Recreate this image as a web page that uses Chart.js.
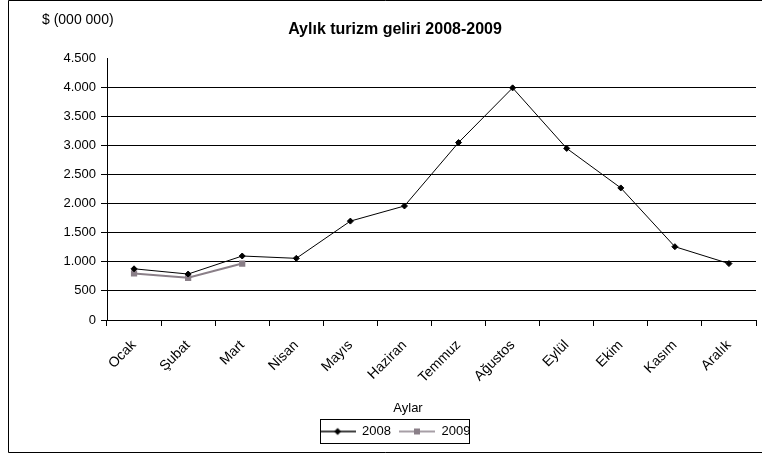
<!DOCTYPE html>
<html>
<head>
<meta charset="utf-8">
<script src="https://cdn.jsdelivr.net/npm/chart.js@4.4.0/dist/chart.umd.min.js"></script>
<style>
  html, body { margin: 0; padding: 0; background: #fff; }
  #wrap { width: 762px; height: 454px; position: relative; }
</style>
</head>
<body>
<div id="wrap"><canvas id="tourismChart"></canvas></div>
<script>
const months = ['Ocak', 'Şubat', 'Mart', 'Nisan', 'Mayıs', 'Haziran', 'Temmuz', 'Ağustos', 'Eylül', 'Ekim', 'Kasım', 'Aralık'];
const income2008 = [880, 790, 1100, 1060, 1700, 1960, 3050, 3990, 2950, 2270, 1260, 970];
const income2009 = [800, 725, 970, null, null, null, null, null, null, null, null, null];
const yTicks = [0, 500, 1000, 1500, 2000, 2500, 3000, 3500, 4000, 4500];

const fontFamily = '"Liberation Sans", Arial, sans-serif';

// little legend glyph: line with marker in the middle
function legendGlyph(color, style) {
  const c = document.createElement('canvas');
  c.width = 36; c.height = 10;
  const g = c.getContext('2d');
  g.strokeStyle = color; g.lineWidth = 1.5;
  g.beginPath(); g.moveTo(0, 5); g.lineTo(36, 5); g.stroke();
  g.fillStyle = color;
  if (style === 'diamond') {
    g.beginPath(); g.moveTo(18, 1.5); g.lineTo(21.5, 5); g.lineTo(18, 8.5); g.lineTo(14.5, 5); g.closePath(); g.fill();
  } else {
    g.fillRect(15, 2, 6, 6);
  }
  return c;
}

const extras = {
  id: 'extras',
  afterDraw(chart) {
    const ctx = chart.ctx;
    ctx.save();
    ctx.fillStyle = '#000';
    ctx.textBaseline = 'middle';
    // y axis unit
    ctx.font = '14px ' + fontFamily;
    ctx.fillText('$ (000 000)', 42, 20);
    // x axis title
    ctx.font = '13px ' + fontFamily;
    ctx.textAlign = 'center';
    ctx.fillText('Aylar', 408, 408);
    // legend box
    const lg = chart.legend;
    ctx.strokeStyle = '#000';
    ctx.lineWidth = 1;
    const cx = (lg.left + lg.right) / 2;
    ctx.strokeRect(Math.round(cx - 75) + 0.5, Math.round(lg.top + 2) + 0.5, 149, 24);
    // outer frame: top, left, bottom
    ctx.beginPath();
    ctx.moveTo(8.5, 0.5); ctx.lineTo(762, 0.5);
    ctx.moveTo(8.5, 0.5); ctx.lineTo(8.5, 452.5);
    ctx.lineTo(762, 452.5);
    ctx.stroke();
    ctx.restore();
  }
};

const ctx = document.getElementById('tourismChart').getContext('2d');

new Chart(ctx, {
  type: 'line',
  data: {
    labels: months,
    datasets: [{
      label: '2008',
      data: income2008,
      borderColor: '#000',
      backgroundColor: '#000',
      borderWidth: 1,
      pointStyle: 'rectRot',
      pointRadius: 3,
      legendGlyph: legendGlyph('#000', 'diamond')
    }, {
      label: '2009',
      data: income2009,
      borderColor: '#8a7f88',
      backgroundColor: '#8a7f88',
      borderWidth: 2,
      pointStyle: 'rect',
      pointRadius: 3,
      legendGlyph: legendGlyph('#8a7f88', 'square')
    }]
  },
  options: {
    responsive: true,
    maintainAspectRatio: false,
    animation: false,
    layout: { padding: { top: 8, left: 28, right: 0, bottom: 6 } },
    scales: {
      x: {
        offset: true,
        afterFit(scale) { scale.height = 97; },
        grid: { offset: true, drawOnChartArea: false, color: '#000', tickLength: 6 },
        border: { color: '#000', width: 1 },
        ticks: {
          color: '#000',
          font: { family: fontFamily, size: 14 },
          maxRotation: 45,
          minRotation: 45,
          padding: 11
        }
      },
      y: {
        min: 0,
        max: 4500,
        afterBuildTicks(axis) { axis.ticks = yTicks.map(v => ({ value: v })); },
        afterFit(scale) { scale.width = 79; },
        grid: {
          color: c => (c.tick && c.tick.value === 4500 ? 'rgba(0,0,0,0)' : '#000'),
          tickLength: 6
        },
        border: { color: '#000', width: 1 },
        ticks: {
          color: '#000',
          font: { family: fontFamily, size: 13 },
          padding: 5,
          callback: v => v.toLocaleString('de-DE')
        }
      }
    },
    plugins: {
      title: {
        display: true,
        text: 'Aylık turizm geliri 2008-2009',
        color: '#000',
        font: { family: fontFamily, size: 16, weight: 'bold' },
        padding: { top: 12, bottom: 19 }
      },
      legend: {
        position: 'bottom',
        labels: {
          color: '#000',
          font: { family: fontFamily, size: 13 },
          usePointStyle: true,
          pointStyleWidth: 36,
          padding: 8,
          generateLabels(chart) {
            return chart.data.datasets.map((ds, i) => ({
              text: ds.label,
              pointStyle: ds.legendGlyph,
              fillStyle: ds.backgroundColor,
              strokeStyle: ds.borderColor,
              lineWidth: 0,
              hidden: false,
              datasetIndex: i,
              fontColor: '#000'
            }));
          }
        }
      },
      tooltip: { enabled: false }
    }
  },
  plugins: [extras]
});
</script>
</body>
</html>
